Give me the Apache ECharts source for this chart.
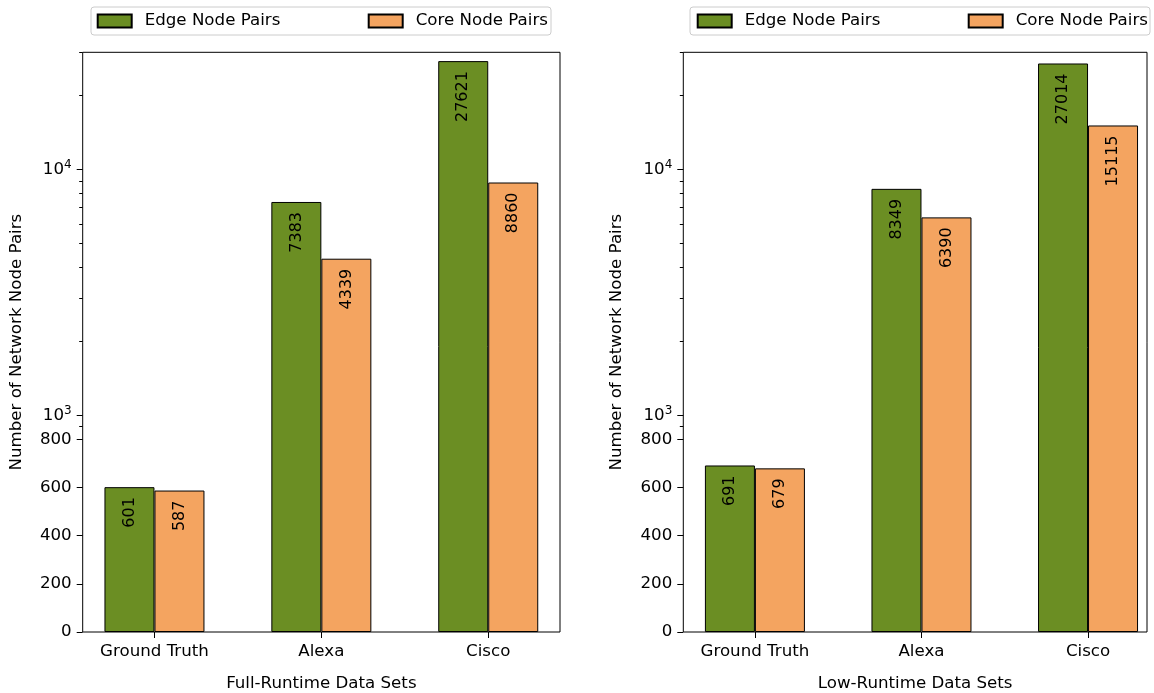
<!DOCTYPE html>
<html>
<head>
<meta charset="utf-8">
<script src="https://cdn.jsdelivr.net/npm/echarts@6/dist/echarts.min.js"></script>
<style>
  html, body { margin: 0; padding: 0; background: #fff; }
  #chart { width: 1154px; height: 693px; }
</style>
</head>
<body>
<div id="chart"></div>
<script>
// Data sets and measured node-pair counts
const categories = ['Ground Truth', 'Alexa', 'Cisco'];
const fullEdge = [601, 7383, 27621];
const fullCore = [587, 4339, 8860];
const lowEdge = [691, 8349, 27014];
const lowCore = [679, 6390, 15115];
const seriesNames = ['Edge Node Pairs', 'Core Node Pairs'];
const panelTitles = ['Full-Runtime Data Sets', 'Low-Runtime Data Sets'];
const yTitle = 'Number of Network Node Pairs';
const majorTicks = [0, 200, 400, 600, 800, 1000, 10000];
const minorTicks = [900, 2000, 3000, 4000, 5000, 6000, 7000, 8000, 9000, 20000, 30000];
const yTop = 30000;

// Symmetric-log style scale: linear up to the threshold, logarithmic above it
const LIN_T = 800;
const LIN_SPAN = 0.7843; // width of the linear part, in decades
function T(v) {
  return v <= LIN_T ? (v / LIN_T) * LIN_SPAN : LIN_SPAN + Math.log10(v / LIN_T);
}

const FONT = 'DejaVu Sans';
const FS = 16.67;
const GREEN = '#6B8E23';
const ORANGE = '#F4A460';

function tickLabel(val) {
  let best = majorTicks[0], d = Infinity;
  for (const t of majorTicks) {
    const dd = Math.abs(T(t) - val);
    if (dd < d) { d = dd; best = t; }
  }
  if (best >= 1000) {
    return '{b|10}{s|' + Math.round(Math.log10(best)) + '}';
  }
  return '{b|' + best + '}';
}

const grids = [
  { left: 82.7, top: 52.3, width: 477.3, height: 579.7 },
  { left: 683.3, top: 52.3, width: 463.7, height: 579.7 }
];
const xRanges = [[-0.43, 2.43], [-0.43, 2.354]];

const xAxes = [], yAxes = [], series = [];
[0, 1].forEach(g => {
  xAxes.push({
    type: 'value', gridIndex: g, min: xRanges[g][0], max: xRanges[g][1],
    splitLine: { show: false },
    axisLine: { show: false, onZero: false },
    axisTick: { show: true, length: 6, lineStyle: { color: '#000' }, customValues: [0, 1, 2] },
    axisLabel: {
      customValues: [0, 1, 2], margin: 11, color: '#000', fontFamily: FONT, fontSize: FS,
      formatter: v => categories[Math.round(v)]
    },
    name: panelTitles[g], nameLocation: 'middle', nameGap: 43,
    nameTextStyle: { color: '#000', fontFamily: FONT, fontSize: FS }
  });
  // major ticks and labels
  yAxes.push({
    type: 'value', gridIndex: g, min: 0, max: T(yTop), position: 'left',
    splitLine: { show: false },
    axisLine: { show: false, onZero: false },
    axisTick: { show: true, length: 6, lineStyle: { color: '#000' }, customValues: majorTicks.map(T) },
    axisLabel: {
      customValues: majorTicks.map(T), margin: 11, color: '#000', fontFamily: FONT,
      formatter: tickLabel,
      rich: {
        b: { fontFamily: FONT, fontSize: FS, color: '#000' },
        s: { fontFamily: FONT, fontSize: 12, color: '#000', padding: [0, 0, 10, 0] }
      }
    },
    name: yTitle, nameLocation: 'middle', nameGap: 58,
    nameTextStyle: { color: '#000', fontFamily: FONT, fontSize: FS }
  });
  // minor ticks
  yAxes.push({
    type: 'value', gridIndex: g, min: 0, max: T(yTop), position: 'left', offset: 0,
    splitLine: { show: false },
    axisLine: { show: false, onZero: false },
    axisLabel: { show: false },
    axisTick: { show: true, length: 3.5, lineStyle: { color: '#000' }, customValues: minorTicks.map(T) }
  });

  const pairs = g === 0 ? [fullEdge, fullCore] : [lowEdge, lowCore];
  pairs.forEach((vals, k) => {
    series.push({
      type: 'bar', name: seriesNames[k],
      xAxisIndex: g, yAxisIndex: g * 2,
      barWidth: 50, barGap: '0%',
      data: vals.map((v, i) => [i, T(v)]),
      itemStyle: { color: k === 0 ? GREEN : ORANGE, borderColor: '#000', borderWidth: 1 },
      label: {
        show: true, position: 'insideTop', distance: 10, rotate: 90,
        align: 'right', verticalAlign: 'middle',
        color: '#000', fontFamily: FONT, fontSize: 16,
        formatter: p => String(vals[p.dataIndex])
      },
      emphasis: { disabled: true },
      animation: false
    });
  });
});

// legends, one box per panel
const legendBoxes = [
  { x: 91, y: 7, w: 460, edge: 96.7, core: 367.7 },
  { x: 690, y: 7, w: 460, edge: 696.7, core: 967.7 }
];
const legends = [];
const graphics = [];
legendBoxes.forEach(b => {
  graphics.push({
    type: 'rect', z: 0, silent: true,
    shape: { x: b.x, y: b.y, width: b.w, height: 28, r: 3 },
    style: { fill: '#fff', stroke: '#cccccc', lineWidth: 1 }
  });
  [[b.edge, seriesNames[0]], [b.core, seriesNames[1]]].forEach(([lx, nm]) => {
    legends.push({
      left: lx, top: 12.5, padding: 0, itemWidth: 34, itemHeight: 13, icon: 'rect',
      selectedMode: false, data: [nm],
      textStyle: { color: '#000', fontFamily: FONT, fontSize: FS, padding: [0, 0, 0, 8] }
    });
  });
});

const chart = echarts.init(document.getElementById('chart'), null, { renderer: 'canvas' });
chart.setOption({
  backgroundColor: '#fff',
  animation: false,
  grid: grids.map(g => Object.assign({
    show: true, borderColor: '#000', borderWidth: 1, backgroundColor: 'transparent',
    containLabel: false, outerBoundsMode: 'none'
  }, g)),
  xAxis: xAxes,
  yAxis: yAxes,
  legend: legends,
  graphic: graphics,
  series: series
});
</script>
</body>
</html>
